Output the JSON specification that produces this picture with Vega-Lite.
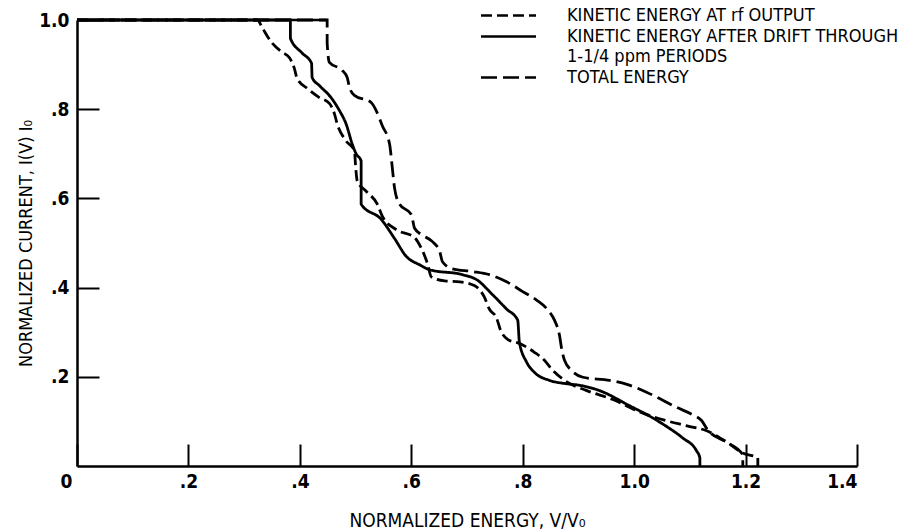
{
  "$schema": "https://vega.github.io/schema/vega-lite/v6.json",
  "autosize": "none",
  "width": 780,
  "height": 446,
  "padding": {"left": 77, "top": 20, "right": 47, "bottom": 65},
  "background": "white",
  "config": {
    "view": {"stroke": null},
    "font": "Liberation Sans Narrow, DejaVu Sans Condensed, sans-serif",
    "axis": {
      "domainColor": "black", "domainWidth": 2.5, "tickColor": "black", "tickWidth": 2,
      "labelColor": "black", "titleColor": "black", "grid": false,
      "labelFont": "Liberation Sans Narrow, DejaVu Sans Condensed, sans-serif",
      "titleFont": "Liberation Sans Narrow, DejaVu Sans Condensed, sans-serif",
      "labelFontSize": 19, "labelFontWeight": "bold", "titleFontSize": 18, "titleFontWeight": "normal"
    },
    "legend": {
      "labelFont": "Liberation Sans Narrow, DejaVu Sans Condensed, sans-serif",
      "labelFontSize": 18, "labelColor": "black", "labelLimit": 500
    }
  },
  "datasets": {
    "curves": [
      {"s": "rf", "o": 0, "v": 0, "i": 1.0},
      {"s": "rf", "o": 1, "v": 0.324, "i": 1.0},
      {"s": "rf", "o": 2, "v": 0.332, "i": 0.984},
      {"s": "rf", "o": 3, "v": 0.349, "i": 0.950},
      {"s": "rf", "o": 4, "v": 0.368, "i": 0.928},
      {"s": "rf", "o": 5, "v": 0.381, "i": 0.916},
      {"s": "rf", "o": 6, "v": 0.390, "i": 0.892},
      {"s": "rf", "o": 7, "v": 0.395, "i": 0.869},
      {"s": "rf", "o": 8, "v": 0.413, "i": 0.847},
      {"s": "rf", "o": 9, "v": 0.435, "i": 0.826},
      {"s": "rf", "o": 10, "v": 0.453, "i": 0.813},
      {"s": "rf", "o": 11, "v": 0.462, "i": 0.790},
      {"s": "rf", "o": 12, "v": 0.467, "i": 0.767},
      {"s": "rf", "o": 13, "v": 0.483, "i": 0.729},
      {"s": "rf", "o": 14, "v": 0.498, "i": 0.707},
      {"s": "rf", "o": 15, "v": 0.500, "i": 0.673},
      {"s": "rf", "o": 16, "v": 0.503, "i": 0.639},
      {"s": "rf", "o": 17, "v": 0.519, "i": 0.616},
      {"s": "rf", "o": 18, "v": 0.539, "i": 0.587},
      {"s": "rf", "o": 19, "v": 0.548, "i": 0.560},
      {"s": "rf", "o": 20, "v": 0.573, "i": 0.530},
      {"s": "rf", "o": 21, "v": 0.606, "i": 0.512},
      {"s": "rf", "o": 22, "v": 0.618, "i": 0.488},
      {"s": "rf", "o": 23, "v": 0.629, "i": 0.454},
      {"s": "rf", "o": 24, "v": 0.636, "i": 0.424},
      {"s": "rf", "o": 25, "v": 0.660, "i": 0.415},
      {"s": "rf", "o": 26, "v": 0.687, "i": 0.413},
      {"s": "rf", "o": 27, "v": 0.714, "i": 0.404},
      {"s": "rf", "o": 28, "v": 0.731, "i": 0.379},
      {"s": "rf", "o": 29, "v": 0.740, "i": 0.352},
      {"s": "rf", "o": 30, "v": 0.753, "i": 0.332},
      {"s": "rf", "o": 31, "v": 0.760, "i": 0.305},
      {"s": "rf", "o": 32, "v": 0.773, "i": 0.284},
      {"s": "rf", "o": 33, "v": 0.794, "i": 0.275},
      {"s": "rf", "o": 34, "v": 0.821, "i": 0.255},
      {"s": "rf", "o": 35, "v": 0.839, "i": 0.237},
      {"s": "rf", "o": 36, "v": 0.852, "i": 0.217},
      {"s": "rf", "o": 37, "v": 0.875, "i": 0.192},
      {"s": "rf", "o": 38, "v": 0.915, "i": 0.169},
      {"s": "rf", "o": 39, "v": 0.962, "i": 0.149},
      {"s": "rf", "o": 40, "v": 1.005, "i": 0.124},
      {"s": "rf", "o": 41, "v": 1.051, "i": 0.104},
      {"s": "rf", "o": 42, "v": 1.095, "i": 0.090},
      {"s": "rf", "o": 43, "v": 1.130, "i": 0.079},
      {"s": "rf", "o": 44, "v": 1.168, "i": 0.052},
      {"s": "rf", "o": 45, "v": 1.195, "i": 0.029},
      {"s": "rf", "o": 46, "v": 1.222, "i": 0.018},
      {"s": "rf", "o": 47, "v": 1.222, "i": 0.0},

      {"s": "drift", "o": 0, "v": 0, "i": 1.0},
      {"s": "drift", "o": 1, "v": 0.383, "i": 1.0},
      {"s": "drift", "o": 2, "v": 0.383, "i": 0.959},
      {"s": "drift", "o": 3, "v": 0.404, "i": 0.926},
      {"s": "drift", "o": 4, "v": 0.421, "i": 0.903},
      {"s": "drift", "o": 5, "v": 0.422, "i": 0.871},
      {"s": "drift", "o": 6, "v": 0.435, "i": 0.853},
      {"s": "drift", "o": 7, "v": 0.456, "i": 0.826},
      {"s": "drift", "o": 8, "v": 0.471, "i": 0.797},
      {"s": "drift", "o": 9, "v": 0.483, "i": 0.767},
      {"s": "drift", "o": 10, "v": 0.494, "i": 0.722},
      {"s": "drift", "o": 11, "v": 0.501, "i": 0.700},
      {"s": "drift", "o": 12, "v": 0.510, "i": 0.684},
      {"s": "drift", "o": 13, "v": 0.510, "i": 0.587},
      {"s": "drift", "o": 14, "v": 0.546, "i": 0.553},
      {"s": "drift", "o": 15, "v": 0.570, "i": 0.510},
      {"s": "drift", "o": 16, "v": 0.591, "i": 0.470},
      {"s": "drift", "o": 17, "v": 0.615, "i": 0.451},
      {"s": "drift", "o": 18, "v": 0.633, "i": 0.440},
      {"s": "drift", "o": 19, "v": 0.692, "i": 0.429},
      {"s": "drift", "o": 20, "v": 0.717, "i": 0.418},
      {"s": "drift", "o": 21, "v": 0.746, "i": 0.384},
      {"s": "drift", "o": 22, "v": 0.771, "i": 0.352},
      {"s": "drift", "o": 23, "v": 0.791, "i": 0.327},
      {"s": "drift", "o": 24, "v": 0.794, "i": 0.278},
      {"s": "drift", "o": 25, "v": 0.807, "i": 0.233},
      {"s": "drift", "o": 26, "v": 0.821, "i": 0.210},
      {"s": "drift", "o": 27, "v": 0.848, "i": 0.192},
      {"s": "drift", "o": 28, "v": 0.875, "i": 0.185},
      {"s": "drift", "o": 29, "v": 0.902, "i": 0.181},
      {"s": "drift", "o": 30, "v": 0.938, "i": 0.169},
      {"s": "drift", "o": 31, "v": 0.992, "i": 0.135},
      {"s": "drift", "o": 32, "v": 1.033, "i": 0.108},
      {"s": "drift", "o": 33, "v": 1.059, "i": 0.088},
      {"s": "drift", "o": 34, "v": 1.087, "i": 0.063},
      {"s": "drift", "o": 35, "v": 1.112, "i": 0.034},
      {"s": "drift", "o": 36, "v": 1.118, "i": 0.018},
      {"s": "drift", "o": 37, "v": 1.118, "i": 0.0},

      {"s": "total", "o": 0, "v": 0, "i": 1.0},
      {"s": "total", "o": 1, "v": 0.449, "i": 1.0},
      {"s": "total", "o": 2, "v": 0.449, "i": 0.948},
      {"s": "total", "o": 3, "v": 0.453, "i": 0.905},
      {"s": "total", "o": 4, "v": 0.476, "i": 0.887},
      {"s": "total", "o": 5, "v": 0.485, "i": 0.871},
      {"s": "total", "o": 6, "v": 0.489, "i": 0.849},
      {"s": "total", "o": 7, "v": 0.498, "i": 0.831},
      {"s": "total", "o": 8, "v": 0.528, "i": 0.815},
      {"s": "total", "o": 9, "v": 0.537, "i": 0.797},
      {"s": "total", "o": 10, "v": 0.548, "i": 0.763},
      {"s": "total", "o": 11, "v": 0.561, "i": 0.722},
      {"s": "total", "o": 12, "v": 0.566, "i": 0.668},
      {"s": "total", "o": 13, "v": 0.570, "i": 0.623},
      {"s": "total", "o": 14, "v": 0.579, "i": 0.587},
      {"s": "total", "o": 15, "v": 0.600, "i": 0.564},
      {"s": "total", "o": 16, "v": 0.606, "i": 0.533},
      {"s": "total", "o": 17, "v": 0.618, "i": 0.519},
      {"s": "total", "o": 18, "v": 0.638, "i": 0.503},
      {"s": "total", "o": 19, "v": 0.651, "i": 0.481},
      {"s": "total", "o": 20, "v": 0.656, "i": 0.458},
      {"s": "total", "o": 21, "v": 0.674, "i": 0.442},
      {"s": "total", "o": 22, "v": 0.710, "i": 0.436},
      {"s": "total", "o": 23, "v": 0.740, "i": 0.429},
      {"s": "total", "o": 24, "v": 0.771, "i": 0.413},
      {"s": "total", "o": 25, "v": 0.800, "i": 0.391},
      {"s": "total", "o": 26, "v": 0.825, "i": 0.372},
      {"s": "total", "o": 27, "v": 0.845, "i": 0.350},
      {"s": "total", "o": 28, "v": 0.857, "i": 0.327},
      {"s": "total", "o": 29, "v": 0.866, "i": 0.293},
      {"s": "total", "o": 30, "v": 0.870, "i": 0.262},
      {"s": "total", "o": 31, "v": 0.875, "i": 0.237},
      {"s": "total", "o": 32, "v": 0.888, "i": 0.214},
      {"s": "total", "o": 33, "v": 0.908, "i": 0.199},
      {"s": "total", "o": 34, "v": 0.956, "i": 0.192},
      {"s": "total", "o": 35, "v": 0.987, "i": 0.183},
      {"s": "total", "o": 36, "v": 1.023, "i": 0.165},
      {"s": "total", "o": 37, "v": 1.077, "i": 0.131},
      {"s": "total", "o": 38, "v": 1.105, "i": 0.115},
      {"s": "total", "o": 39, "v": 1.121, "i": 0.102},
      {"s": "total", "o": 40, "v": 1.132, "i": 0.081},
      {"s": "total", "o": 41, "v": 1.168, "i": 0.052},
      {"s": "total", "o": 42, "v": 1.195, "i": 0.025},
      {"s": "total", "o": 43, "v": 1.195, "i": 0.0}
    ],
    "topline": [{"v0": 0, "v1": 0.449, "i": 1.0}]
  },
  "layer": [
    {
      "data": {"name": "topline"},
      "mark": {"type": "rule", "color": "black", "strokeWidth": 2.5},
      "encoding": {
        "x": {"field": "v0", "type": "quantitative", "scale": {"domain": [0, 1.4]}},
        "x2": {"field": "v1"},
        "y": {"field": "i", "type": "quantitative", "scale": {"domain": [0, 1]}}
      }
    },
    {
      "data": {"name": "curves"},
      "mark": {"type": "line", "color": "black", "strokeWidth": 2.8, "interpolate": "monotone"},
      "encoding": {
        "x": {
          "field": "v", "type": "quantitative",
          "scale": {"domain": [0, 1.4], "nice": false, "zero": true},
          "axis": {
            "title": "NORMALIZED ENERGY, V/V₀",
            "titleFontSize": 19,
            "values": [0, 0.2, 0.4, 0.6, 0.8, 1.0, 1.2, 1.4],
            "labelExpr": "datum.value == 0 ? '0' : replace(format(datum.value, '.1f'), '0.', '.')",
            "tickSize": -22,
            "labelPadding": 28,
            "titlePadding": 20,
            "labelOffset": {"condition": {"test": "datum.value == 0", "value": -17}, "value": 0}
          }
        },
        "y": {
          "field": "i", "type": "quantitative",
          "scale": {"domain": [0, 1], "nice": false},
          "axis": {
            "title": "NORMALIZED CURRENT, I(V) I₀",
            "values": [0.2, 0.4, 0.6, 0.8, 1.0],
            "labelExpr": "replace(format(datum.value, '.1f'), '0.', '.')",
            "tickSize": -22,
            "labelPadding": 30,
            "titlePadding": 3
          }
        },
        "strokeDash": {
          "field": "s", "type": "nominal",
          "scale": {"domain": ["rf", "drift", "total"], "range": [[11, 5], [1, 0], [16, 6]]},
          "legend": {
            "title": null,
            "orient": "none",
            "legendX": 420,
            "legendY": -16,
            "symbolType": "M-2.75,0H2.75",
            "symbolSize": 400,
            "symbolStrokeWidth": 2.5,
            "symbolStrokeColor": "black",
            "symbolFillColor": "transparent",
            "rowPadding": 0,
            "labelOffset": 47,
            "labelExpr": "datum.value == 'rf' ? 'KINETIC ENERGY AT rf OUTPUT' : datum.value == 'drift' ? ['KINETIC ENERGY AFTER DRIFT THROUGH', '\u2002\u2002\u20021-1/4 ppm PERIODS'] : 'TOTAL ENERGY'"
          }
        },
        "order": {"field": "o", "type": "quantitative"}
      }
    }
  ]
}
